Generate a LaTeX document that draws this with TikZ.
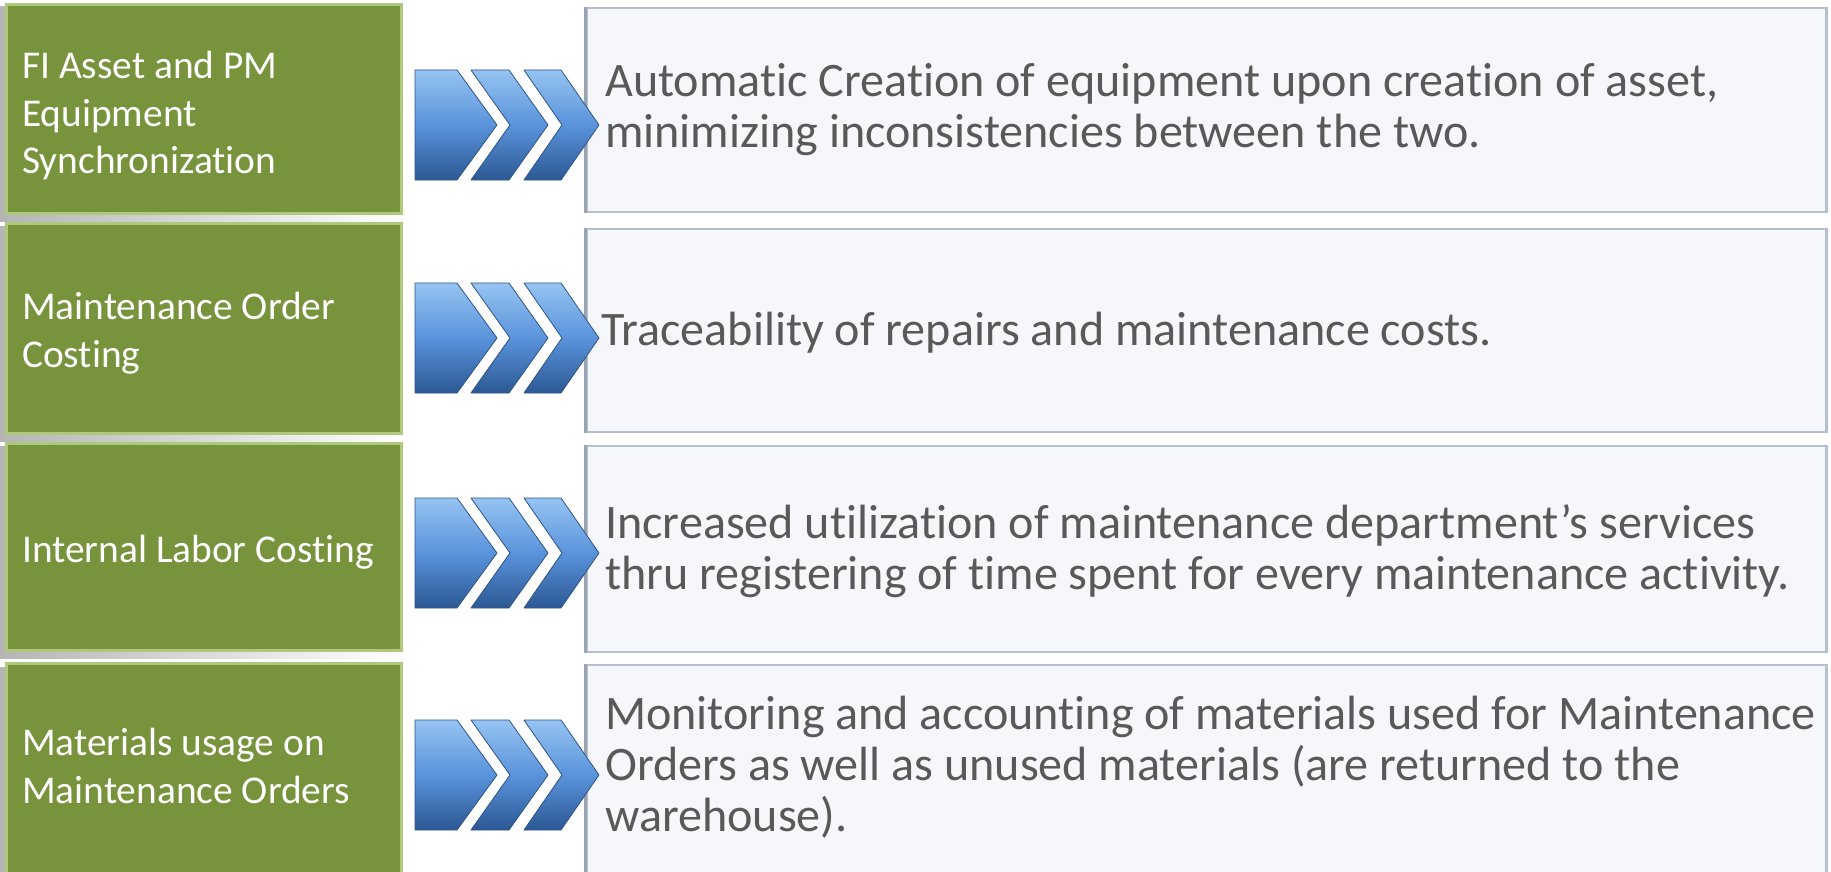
\documentclass[tikz,border=0pt]{standalone}
\usepackage{fontspec}
\setmainfont{Carlito}[Ligatures={NoCommon,NoRare}]
\definecolor{grn}{HTML}{77933C}
\definecolor{grnedge}{HTML}{AFC97C}
\definecolor{gfill}{HTML}{F5F7FA}
\definecolor{gedge}{HTML}{B4C0CE}
\definecolor{gleft}{HTML}{9AA4B0}
\definecolor{txtgray}{HTML}{595959}
\definecolor{chtop}{HTML}{96C4F2}
\definecolor{chmid}{HTML}{5A93DB}
\definecolor{chbot}{HTML}{2C5894}
\definecolor{chline}{HTML}{2E5585}
\definecolor{shad}{HTML}{B5B5B5}
\tikzset{
  greenbox/.style={draw=grnedge, line width=3pt, fill=grn, inner sep=0pt, minimum width=395pt},
  graybox/.style={draw=gedge, line width=2.5pt, fill=gfill, inner sep=0pt, minimum width=1240pt},
  gtext/.style={anchor=north west, inner sep=0pt, align=left, text=white, font=\fontsize{39.4}{47.5}\selectfont},
  dtext/.style={anchor=north west, inner sep=0pt, align=left, text=txtgray, font=\fontsize{48.1}{51}\selectfont},
  chev/.style={top color=chtop, bottom color=chbot, middle color=chmid, draw=chline, line width=0.8pt, line join=round},
  gshadow/.style={left color=shad, right color=white}
}
\begin{document}
\begin{tikzpicture}[x=1pt,y=-1pt]
\useasboundingbox[fill=white] (0,0) rectangle (1831,872);
% shadows of green boxes
\foreach \t/\b in {3/215,222/435,442/652,663/880}{
  \shade[gshadow] (0,\t+4) rectangle (400,\b+6);
}
% green boxes
\node[greenbox, minimum height=209pt] (g1) at (203.5,109) {};
\node[greenbox, minimum height=210pt] (g2) at (203.5,328.5) {};
\node[greenbox, minimum height=207pt] (g3) at (203.5,547) {};
\node[greenbox, minimum height=214pt] (g4) at (203.5,770) {};
% gray boxes
\node[graybox, minimum height=204pt] (d1) at (1206.5,110) {};
\node[graybox, minimum height=203pt] (d2) at (1206.5,330.5) {};
\node[graybox, minimum height=206pt] (d3) at (1206.5,549) {};
\node[graybox, minimum height=214pt] (d4) at (1206.5,772) {};
\foreach \n in {d1,d2,d3,d4}{
  \draw[gleft, line width=2.5pt] (\n.north west) -- (\n.south west);
}
% chevrons
\foreach \cy in {125,338,553,775}{
  \path[chev] (415,\cy-55) -- (457,\cy-55) -- (497,\cy) -- (457,\cy+55) -- (415,\cy+55) -- cycle;
  \path[chev] (471,\cy-55) -- (509,\cy-55) -- (548,\cy) -- (509,\cy+55) -- (471,\cy+55) -- (510,\cy) -- cycle;
  \path[chev] (524,\cy-55) -- (561,\cy-55) -- (599,\cy) -- (561,\cy+55) -- (524,\cy+55) -- (562,\cy) -- cycle;
}
% green texts
\node[gtext] (g1t) at (22,45.5) {\strut FI Asset and PM\\\strut Equipment\\\strut Synchronization};
\node[gtext] (g2t) at (22,286.5) {\strut Maintenance Order\\\strut Costing};
\node[gtext] (g3t) at (22,529.5) {\strut Internal Labor Costing};
\node[gtext] (g4t) at (22,722.5) {\strut Materials usage on\\\strut Maintenance Orders};
% gray texts
\node[dtext] (d1t) at (605,60.8) {\strut Automatic Creation of equipment upon creation of asset,\\\strut minimizing inconsistencies between the two.};
\node[dtext] (d2t) at (601,309.3) {\strut Traceability of repairs and maintenance costs.};
\node[dtext] (d3t) at (605,503) {\strut Increased utilization of maintenance department’s services\\\strut thru registering of time spent for every maintenance activity.};
\node[dtext] (d4t) at (605,693.8) {\strut Monitoring and accounting of materials used for Maintenance\\\strut Orders as well as unused materials (are returned to the\\\strut warehouse).};
\end{tikzpicture}
\end{document}
